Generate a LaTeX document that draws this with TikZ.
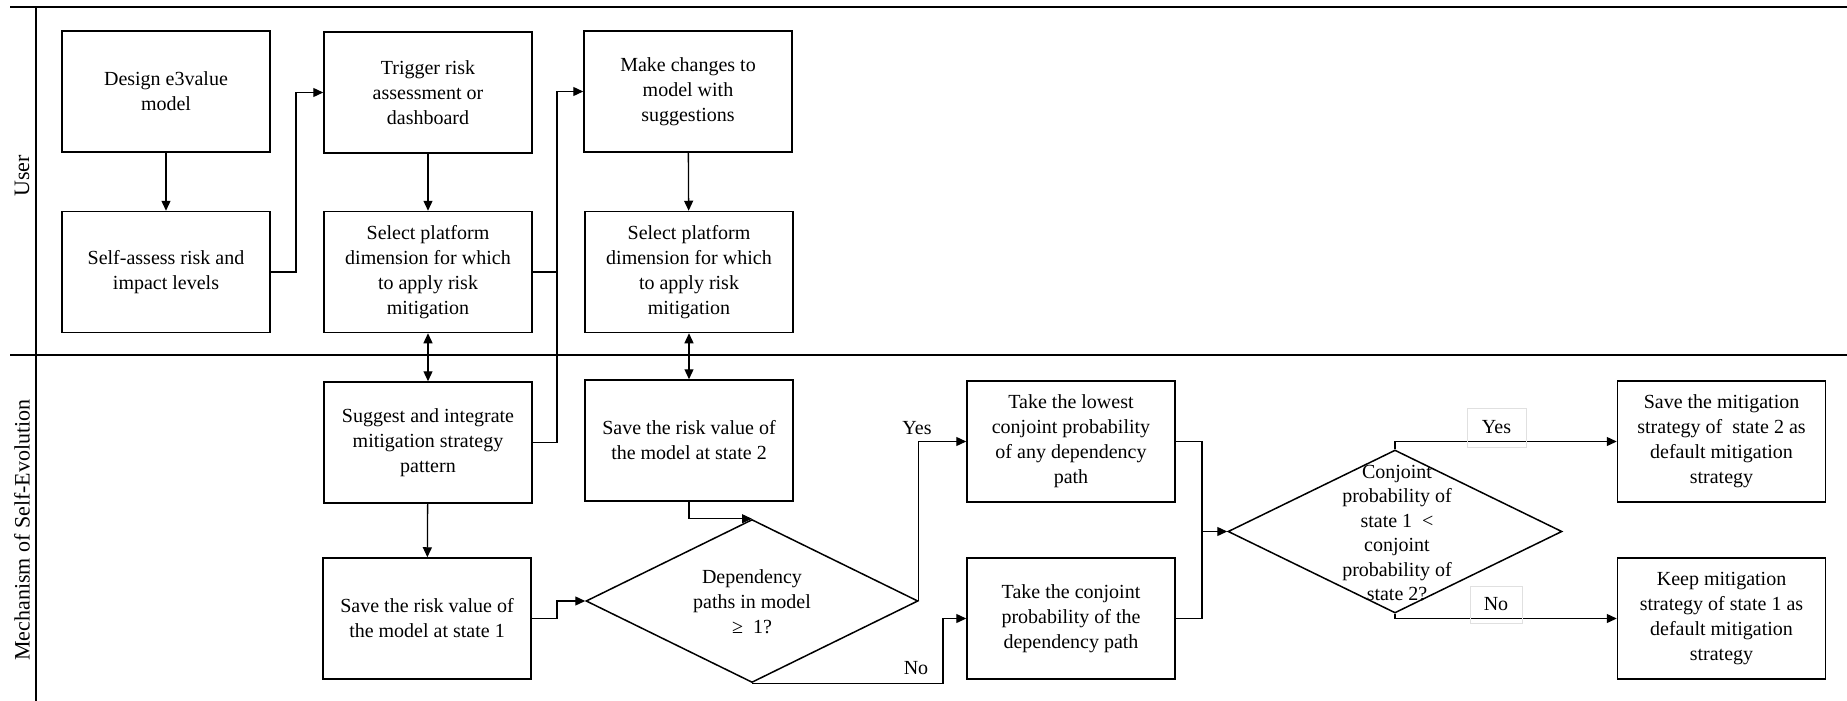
\documentclass[tikz,border=0pt]{standalone}
\usepackage{fontspec}
\setmainfont{Liberation Serif}
\usetikzlibrary{arrows.meta,shapes.geometric,calc}

\begin{document}
\begin{tikzpicture}[x=1pt,y=-1pt,
  font=\fontsize{20}{25}\selectfont,
  stepbox/.style={draw, line width=1.5pt, minimum width=208pt, minimum height=121pt,
                  inner sep=0pt, align=center},
  decision/.style={draw, diamond, line width=1.5pt, inner sep=0pt},
  flow/.style={line width=1.3pt, -{Triangle[length=10pt,width=9pt]}},
  link/.style={line width=1.3pt},
  twoway/.style={line width=1.3pt, {Triangle[length=10pt,width=9pt]}-{Triangle[length=10pt,width=9pt]}},
  lane/.style={line width=2.2pt},
  lanelabel/.style={font=\fontsize{22}{26}\selectfont, rotate=90},
  answer/.style={inner sep=0pt},
  answerbox/.style={draw=black!12, line width=0.6pt, inner sep=0pt}
]
\useasboundingbox (0,0) rectangle (1847,701);

% swimlane frame
\draw[lane] (10,7) -- (1847,7);
\draw[lane] (10,355) -- (1847,355);
\draw[line width=1.4pt] (36,7) -- (36,701);
\node[lanelabel] (user) at (22,176) {User};
\node[lanelabel] (mech) at (22,530) {Mechanism of Self-Evolution};

% user lane
\node[stepbox] (design)  at (166,91.5)  {Design e3value\\model};
\node[stepbox] (assess)  at (166,272)   {Self-assess risk and\\impact levels};
\node[stepbox] (trigger) at (428,92.5)  {Trigger risk\\assessment or\\dashboard};
\node[stepbox] (select1) at (428,272)   {Select platform\\dimension for which\\to apply risk\\mitigation};
\node[stepbox] (change)  at (688,91.5)  {Make changes to\\model with\\suggestions};
\node[stepbox] (select2) at (689,272)   {Select platform\\dimension for which\\to apply risk\\mitigation};

% self-evolution lane
\node[stepbox] (suggest) at (428,442.5) {Suggest and integrate\\mitigation strategy\\pattern};
\node[stepbox] (state1)  at (427,618.5) {Save the risk value of\\the model at state 1};
\node[stepbox] (state2)  at (689,440.5) {Save the risk value of\\the model at state 2};
\node[decision, minimum width=332pt, minimum height=163pt] (dep) at (752,601) {};
\node[align=center] (deptext) at (752,602) {Dependency\\paths in model\\≥\enspace 1?};
\node[stepbox] (lowest)  at (1071,441.5) {Take the lowest\\conjoint probability\\of any dependency\\path};
\node[stepbox] (conj)    at (1071,618.5) {Take the conjoint\\probability of the\\dependency path};
\node[decision, minimum width=334pt, minimum height=163pt] (cmp) at (1395,531.5) {};
\node[align=center, font=\fontsize{20}{24.4}\selectfont] (cmptext) at (1397,533)
  {Conjoint\\probability of\\state 1\enspace <\\conjoint\\probability of\\state 2?};
\node[stepbox] (keep2)   at (1721.5,441.5) {Save the mitigation\\strategy of\enspace state 2 as\\default mitigation\\strategy};
\node[stepbox] (keep1)   at (1721.5,618.5) {Keep mitigation\\strategy of state 1 as\\default mitigation\\strategy};

% riser columns for elbow connectors
\coordinate (r1) at (296,0);
\coordinate (r2) at (557,0);
\coordinate (r4) at (943,0);
\coordinate (r5) at (1202,0);

% connectors in the user lane
\draw[flow] (design) -- (assess);
\draw[flow] (assess.east) -- (assess.east -| r1) |- (trigger.west);
\draw[flow] (trigger) -- (select1);
\draw[flow] (suggest.east) -- (suggest.east -| r2) |- (change.west);
\draw[link] (select1.east) -- (select1.east -| r2);
\draw[flow] (change) -- (select2);

% connectors across the lanes
\draw[twoway] (select1) -- (suggest);
\draw[twoway] (select2) -- (state2);

% connectors in the self-evolution lane
\draw[flow] (suggest) -- (state1);
\draw[flow] (state1.east) -- (state1.east -| r2) |- (dep.west);
\draw[flow] (state2.south) |- (dep.north);
\draw[flow] (dep.east) |- (lowest.west);
\draw[flow] (dep.south) -- (dep.south -| r4) |- (conj.west);
\draw[link] (lowest.east) -- (lowest.east -| r5) -- (conj.east -| r5) -- (conj.east);
\draw[flow] (cmp.west -| r5) -- (cmp.west);
\draw[flow] (cmp.north) |- (keep2.west);
\draw[flow] (cmp.south) |- (keep1.west);

% branch labels
\node[answer] (yes1) at (917,428) {Yes};
\node[answer] (no1)  at (916,668) {No};
\node[answerbox, minimum width=59pt, minimum height=39pt] (yes2) at (1496.5,427.5) {Yes};
\node[answerbox, minimum width=52pt, minimum height=37pt] (no2)  at (1496,604.5) {No};
\end{tikzpicture}
\end{document}
